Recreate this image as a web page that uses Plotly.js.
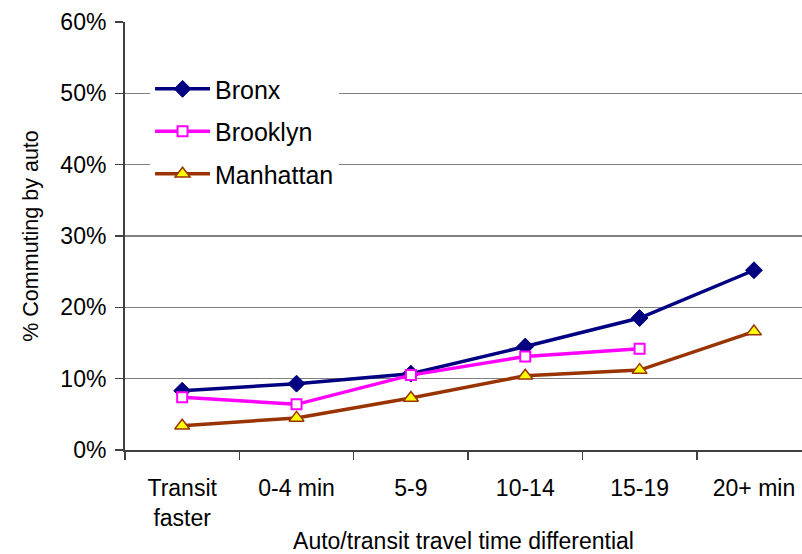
<!DOCTYPE html>
<html>
<head>
<meta charset="utf-8">
<script src="https://cdn.plot.ly/plotly-3.0.1.min.js"></script>
<style>html,body{margin:0;padding:0;background:#fff;}#chart{width:802px;height:554px;}</style>
</head>
<body>
<div id="chart"></div>
<script>
const categories = ["Transit<br>faster", "0-4 min", "5-9", "10-14", "15-19", "20+ min"];
const bronx = [8.3, 9.3, 10.7, 14.5, 18.5, 25.2];
const brooklyn = [7.4, 6.4, 10.5, 13.1, 14.2, null];
const manhattan = [3.4, 4.5, 7.3, 10.4, 11.2, 16.6];
const seriesNames = ["Bronx", "Brooklyn", "Manhattan"];

const FONT = '"Liberation Sans", Arial, sans-serif';

const traces = [
  {
    x: categories, y: bronx, name: seriesNames[0], type: 'scatter', mode: 'lines+markers',
    legendgroup: 'a',
    line: {color: '#000080', width: 3.5},
    marker: {symbol: 'diamond', size: 13, color: '#000080', line: {color: '#000080', width: 1}}
  },
  {
    x: categories, y: brooklyn, name: seriesNames[1], type: 'scatter', mode: 'lines+markers',
    legendgroup: 'b',
    line: {color: '#FF00FF', width: 3.5},
    marker: {symbol: 'square', size: 10, color: '#FFFFFF', line: {color: '#FF00FF', width: 2}}
  },
  {
    x: categories, y: manhattan, name: seriesNames[2], type: 'scatter', mode: 'lines+markers',
    legendgroup: 'c',
    line: {color: '#993300', width: 3.5},
    marker: {symbol: 'triangle-up', size: 13, color: '#FFFF00', line: {color: '#993300', width: 1.5}}
  }
];

const layout = {
  width: 802, height: 554,
  margin: {l: 125, r: 0, t: 22, b: 104},
  paper_bgcolor: '#fff', plot_bgcolor: '#fff',
  font: {family: FONT, size: 23, color: '#000'},
  showlegend: true,
  legend: {
    x: 0.037, y: 0.897, xanchor: 'left', yanchor: 'top',
    bgcolor: '#fff', borderwidth: 0,
    font: {family: FONT, size: 25, color: '#000'},
    traceorder: 'grouped', tracegroupgap: 7,
    itemwidth: 55
  },
  xaxis: {
    type: 'category',
    range: [-0.5, 5.42],
    showline: true, linecolor: '#404040', linewidth: 2,
    ticks: 'outside', ticklen: 8, tickcolor: '#404040', tickwidth: 1.5,
    tickson: 'boundaries',
    ticklabelstandoff: 16,
    showgrid: false, zeroline: false,
    tickfont: {family: FONT, size: 23, color: '#000'},
    title: {text: 'Auto/transit travel time differential', font: {family: FONT, size: 23, color: '#000'}, standoff: 12},
    automargin: false
  },
  yaxis: {
    range: [0, 60], dtick: 10, ticksuffix: '%',
    showline: true, linecolor: '#404040', linewidth: 2,
    ticks: 'outside', ticklen: 8, tickcolor: '#404040', tickwidth: 1.5,
    ticklabelstandoff: 4,
    showgrid: true, gridcolor: '#808080', gridwidth: 1.5,
    zeroline: false,
    tickfont: {family: FONT, size: 23, color: '#000'},
    title: {text: '% Commuting by auto', font: {family: FONT, size: 21.5, color: '#000'}, standoff: 16},
    automargin: false
  }
};

Plotly.newPlot('chart', traces, layout, {displayModeBar: false, staticPlot: true});
</script>
</body>
</html>
